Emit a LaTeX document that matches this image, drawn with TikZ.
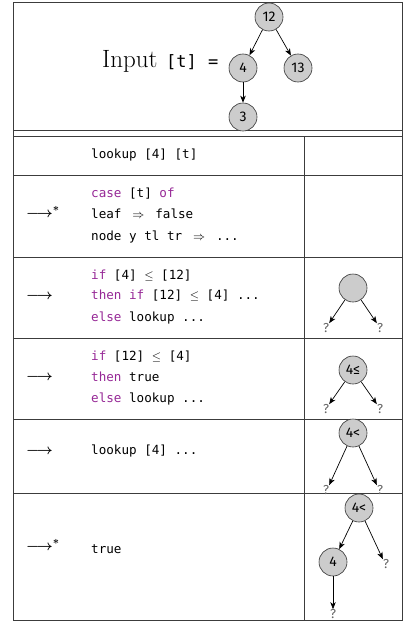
\documentclass[tikz,border=0pt]{standalone}
\usepackage{fontspec}
\setmonofont{DejaVu Sans Mono}
\newfontfamily\firafont{Fira Sans}
\usetikzlibrary{arrows.meta}
\definecolor{kw}{RGB}{150,40,150}
\definecolor{nodefill}{RGB}{204,204,204}
\definecolor{rule}{RGB}{60,60,60}
\begin{document}
\begin{tikzpicture}[x=1pt,y=-1pt,
  frame/.style={draw=rule,line width=0.8pt},
  tnode/.style={circle,draw=black!80,fill=nodefill,line width=0.6pt,minimum size=28pt,inner sep=0pt,font=\firafont\fontsize{14}{16}\selectfont},
  qmark/.style={inner sep=0pt,text=black!60,font=\firafont\fontsize{13}{15}\selectfont},
  tedge/.style={draw=black,line width=0.7pt,-{Stealth[length=7pt,width=5.5pt,inset=2pt]}},
  code/.style={anchor=mid west,inner sep=0pt,font=\ttfamily\fontsize{12.6}{15}\selectfont},
  redarrow/.style={anchor=west,inner sep=0pt,font=\fontsize{15.5}{18}\selectfont\mathversion{bold}},
  hdr/.style={anchor=base west,inner sep=0pt}]
\useasboundingbox (0,0) rectangle (405,621);
% frame
\draw[frame] (13,2) rectangle (402,620);
\draw[frame] (13,130) -- (402,130);
\draw[frame] (13,136) -- (402,136);
\draw[frame] (304,136) -- (304,620);
\foreach \yy in {175,257,338,419,493} \draw[frame] (13,\yy) -- (402,\yy);
% header
\node[hdr,font=\fontsize{25}{30}\selectfont] (inp) at (102,67) {Input};
\node[hdr,font=\ttfamily\fontsize{17}{20}\selectfont] (inpt) at (166,67) {[t]};
\node[hdr,font=\ttfamily\fontsize{17}{20}\selectfont] (inpeq) at (208,67) {=};
\node[tnode] (t12) at (269,17) {12};
\node[tnode] (t4) at (243,68) {4};
\node[tnode] (t13) at (298,68) {13};
\node[tnode] (t3) at (243,117) {3};
\draw[tedge] (t12) -- (t4);
\draw[tedge] (t12) -- (t13);
\draw[tedge] (t4) -- (t3);
% row 1
\node[code] (c1) at (91,156) {lookup [4] [t]};
% row 2
\node[redarrow] (r2) at (26,212) {$\longrightarrow^{*}$};
\node[code] (c2a) at (91,195) {\textcolor{kw}{case} [t] \textcolor{kw}{of}};
\node[code] (c2b) at (91,216) {leaf $\;\Rightarrow\;$ false};
\node[code] (c2c) at (91,238) {node y tl tr $\;\Rightarrow\;$ ...};
% row 3
\node[redarrow] (r3) at (26,297) {$\longrightarrow$};
\node[code] (c3a) at (91,277) {\textcolor{kw}{if} [4] $\leq$ [12]};
\node[code] (c3b) at (91,297) {\textcolor{kw}{then} \textcolor{kw}{if} [12] $\leq$ [4] ...};
\node[code] (c3c) at (91,319) {\textcolor{kw}{else} lookup ...};
\node[tnode] (n3) at (353,288) {};
\node[qmark] (q3l) at (326,328) {?};
\node[qmark] (q3r) at (380,328) {?};
\draw[tedge] (n3) -- (q3l.north east);
\draw[tedge] (n3) -- (q3r.north west);
% row 4
\node[redarrow] (r4) at (26,378) {$\longrightarrow$};
\node[code] (c4a) at (91,358) {\textcolor{kw}{if} [12] $\leq$ [4]};
\node[code] (c4b) at (91,379) {\textcolor{kw}{then} true};
\node[code] (c4c) at (91,400) {\textcolor{kw}{else} lookup ...};
\node[tnode] (n4) at (353,370) {4≤};
\node[qmark] (q4l) at (326,409) {?};
\node[qmark] (q4r) at (380,409) {?};
\draw[tedge] (n4) -- (q4l.north east);
\draw[tedge] (n4) -- (q4r.north west);
% row 5
\node[redarrow] (r5) at (26,452) {$\longrightarrow$};
\node[code] (c5) at (91,452) {lookup [4] ...};
\node[tnode] (n5) at (353,433) {4<};
\node[qmark] (q5l) at (326,490) {?};
\node[qmark] (q5r) at (380,490) {?};
\draw[tedge] (n5) -- (q5l.north east);
\draw[tedge] (n5) -- (q5r.north west);
% row 6
\node[redarrow] (r6) at (26,545) {$\longrightarrow^{*}$};
\node[code] (c6) at (91,551) {true};
\node[tnode] (n6) at (359,508) {4<};
\node[tnode] (n6l) at (333,562) {4};
\node[qmark] (q6r) at (386,564) {?};
\node[qmark] (q6b) at (333,614) {?};
\draw[tedge] (n6) -- (n6l);
\draw[tedge] (n6) -- (q6r.north west);
\draw[tedge] (n6l) -- (q6b.north);
\end{tikzpicture}
\end{document}
